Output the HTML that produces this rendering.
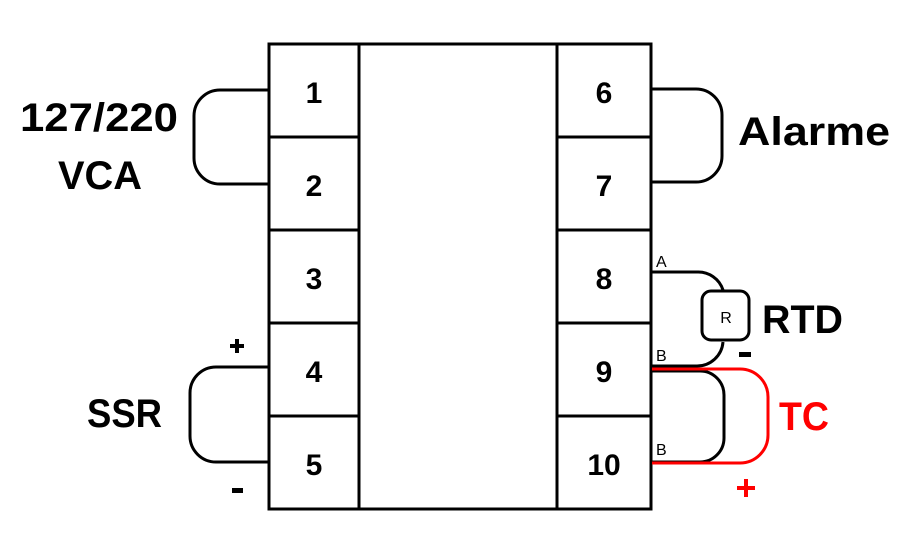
<!DOCTYPE html>
<html><head><meta charset="utf-8"><style>
html,body{margin:0;padding:0;background:#fff;}
svg{display:block;}
text{font-family:"Liberation Sans",sans-serif;font-weight:bold;}
</style></head><body>
<svg width="913" height="555" viewBox="0 0 913 555" xmlns="http://www.w3.org/2000/svg">
<g fill="none" stroke="#000" stroke-width="3">
<rect x="269" y="44" width="382" height="465"/>
<line x1="359" y1="44" x2="359" y2="509"/>
<line x1="557" y1="44" x2="557" y2="509"/>
<line x1="269" y1="137" x2="359" y2="137"/>
<line x1="269" y1="230" x2="359" y2="230"/>
<line x1="269" y1="323" x2="359" y2="323"/>
<line x1="269" y1="416" x2="359" y2="416"/>
<line x1="557" y1="137" x2="651" y2="137"/>
<line x1="557" y1="230" x2="651" y2="230"/>
<line x1="557" y1="323" x2="651" y2="323"/>
<line x1="557" y1="416" x2="651" y2="416"/>
<path d="M268 90 H220 A26 26 0 0 0 194 116 V158 A26 26 0 0 0 220 184 H268"/>
<path d="M268 367 H216 A26 26 0 0 0 190 393 V436 A26 26 0 0 0 216 462 H268"/>
<path d="M652 89 H696 A26 26 0 0 1 722 115 V156 A26 26 0 0 1 696 182 H652"/>
<path d="M652 272 H697 A26 26 0 0 1 723 290"/>
<path d="M723 342 A26 26 0 0 1 697 366 H652"/>
<rect x="702" y="291" width="47" height="49" rx="9"/>
<path d="M652 371 H700 A24 24 0 0 1 724 395 V438 A24 24 0 0 1 700 462 H652"/>
</g>
<path d="M652 369 H740 A28 28 0 0 1 768 397 V435 A28 28 0 0 1 740 463 H652" fill="none" stroke="#f00" stroke-width="3"/>
<g font-size="30" text-anchor="middle">
<text x="314" y="103">1</text>
<text x="314" y="196">2</text>
<text x="314" y="289">3</text>
<text x="314" y="382">4</text>
<text x="314" y="475">5</text>
<text x="604" y="103">6</text>
<text x="604" y="196">7</text>
<text x="604" y="289">8</text>
<text x="604" y="382">9</text>
<text x="604" y="475">10</text>
</g>
<g font-size="40">
<text x="20" y="131" textLength="158" lengthAdjust="spacingAndGlyphs">127/220</text>
<text x="58" y="189" textLength="84" lengthAdjust="spacingAndGlyphs">VCA</text>
<text x="738" y="145" textLength="152" lengthAdjust="spacingAndGlyphs">Alarme</text>
<text x="762" y="333" textLength="81" lengthAdjust="spacingAndGlyphs">RTD</text>
<text x="87" y="427" textLength="75" lengthAdjust="spacingAndGlyphs">SSR</text>
<text x="779" y="430" fill="#f00" textLength="50" lengthAdjust="spacingAndGlyphs">TC</text>
</g>
<g fill="#000">
<rect x="230" y="344" width="14" height="4"/><rect x="235" y="339" width="4" height="14"/>
<rect x="232" y="488" width="11" height="5"/>
<rect x="739" y="352" width="12" height="5"/>
</g>
<g fill="#f00">
<rect x="737" y="486" width="18" height="4"/><rect x="744" y="479" width="4" height="18"/>
</g>
<g font-size="16">
<text x="656" y="267" style="font-weight:normal">A</text>
<text x="656" y="361" style="font-weight:normal">B</text>
<text x="656" y="455" style="font-weight:normal">B</text>
<text x="726" y="323" text-anchor="middle" style="font-weight:normal">R</text>
</g>
</svg>
</body></html>
